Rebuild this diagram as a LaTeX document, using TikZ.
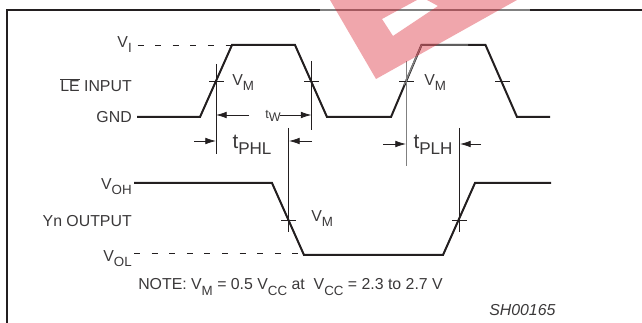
\documentclass[tikz,border=0pt]{standalone}
\usepackage{fontspec}
\usetikzlibrary{arrows.meta}
\setmainfont{Liberation Sans}
\definecolor{inkdark}{HTML}{231F20}
\definecolor{inksoft}{HTML}{3A3839}
\definecolor{stampred}{HTML}{D9202F}
\newcommand{\lowtxt}[1]{\raisebox{-0.32em}{\fontsize{10}{10}\selectfont #1}}
\newcommand{\lowbig}[1]{\raisebox{-0.3em}{\fontsize{12.8}{13}\selectfont #1}}
\tikzset{
    wave/.style={line width=1.5pt, color=inkdark},
    thin line/.style={line width=0.6pt, color=inkdark},
    dash line/.style={line width=0.7pt, color=inkdark, dash pattern=on 4.5pt off 8.7pt},
    dim arrow/.style={line width=0.6pt, color=inkdark, -{Latex[length=8pt,width=5pt]}},
    lbl/.style={inner sep=0pt, text=inksoft, font=\fontsize{11.9}{13}\selectfont},
    big lbl/.style={inner sep=0pt, text=inksoft, font=\fontsize{15.5}{17}\selectfont},
}
\begin{document}
\begin{tikzpicture}[x=0.75pt, y=-0.75pt]
    \useasboundingbox (0,0) rectangle (642,323);

    % frame
    \draw [line width=1.6pt, color=inkdark] (7,323) -- (7,10) -- (642,10);
    \draw [line width=1pt, color=gray] (320,10) -- (530,10);

    % input
    \node [lbl, left] (vi) at (132,45) {V\lowtxt{I}};
    \node [lbl, left] (leinput) at (132,85) {$\overline{\hbox{LE}}$ INPUT};
    \node [lbl, left] (gnd) at (132,117) {GND};
    \draw [dash line] (137.5,45) -- (232,45);
    \draw [wave] (137,117) -- (200,117) -- (232,45) -- (295,45) -- (327,117) -- (391,117) -- (421.5,45) -- (485.5,45) -- (517,117) -- (550,117);
    \draw [line width=1.1pt, color=gray] (404,85) -- (421.5,45) -- (468,45);

    % output
    \node [lbl, left] (voh) at (132,187) {V\lowtxt{OH}};
    \node [lbl, left] (yn) at (132,221) {Yn OUTPUT};
    \node [lbl, left] (vol) at (132,259) {V\lowtxt{OL}};
    \draw [dash line] (134,253.7) -- (302,253.7);
    \draw [wave] (134,183) -- (272,183) -- (304,255) -- (443,255) -- (475,183) -- (551,183);

    % ticks
    \draw [thin line] (209,81) -- (224,81);
    \draw [thin line] (304,81) -- (319,81);
    \draw [thin line] (399,81) -- (414,81);
    \draw [thin line] (495,81) -- (510,81);
    \draw [thin line] (281,220) -- (296,220);
    \draw [thin line] (452,220) -- (467,220);

    % verticals
    \draw [thin line] (216,64) -- (216,154);
    \draw [thin line] (311.5,61) -- (311.5,130);
    \draw [thin line, color=gray] (406,61) -- (406,166);
    \draw [thin line] (288.5,128) -- (288.5,232);
    \draw [thin line] (459.5,128) -- (459.5,232);

    % vm labels
    \node [lbl, anchor=west] (vma) at (232,83) {V\lowtxt{M}};
    \node [lbl, anchor=west] (vmb) at (424,83) {V\lowtxt{M}};
    \node [lbl, anchor=west] (vmc) at (311,219) {V\lowtxt{M}};

    % widths
    \coordinate (wa) at (249,115);
    \coordinate (wb) at (216,115);
    \coordinate (wc) at (280,115);
    \coordinate (wd) at (311.5,115);
    \draw [dim arrow] (wa) -- (wb);
    \draw [dim arrow] (wc) -- (wd);
    \node [inner sep=0pt, text=inksoft, font=\fontsize{9.4}{10}\selectfont] (tw) at (273,116) {t\raisebox{-0.2em}{W}};

    \coordinate (pa) at (194,141);
    \coordinate (pb) at (216,141);
    \coordinate (pc) at (312,141);
    \coordinate (pd) at (289,141);
    \draw [dim arrow] (pa) -- (pb);
    \draw [dim arrow] (pc) -- (pd);
    \node [big lbl] (tphl) at (252,145) {t\lowbig{PHL}};

    \coordinate (qa) at (383,144);
    \coordinate (qb) at (406,144);
    \coordinate (qc) at (481,144);
    \coordinate (qd) at (460,144);
    \draw [dim arrow] (qa) -- (qb);
    \draw [dim arrow] (qc) -- (qd);
    \node [big lbl] (tplh) at (433,145) {t\lowbig{PLH}};

    % note
    \node [lbl, anchor=west] (note) at (138,287) {NOTE: V\lowtxt{M} = 0.5 V\lowtxt{CC} at\ \ V\lowtxt{CC} = 2.3 to 2.7 V};
    \node [lbl, anchor=west, font=\fontsize{11.9}{13}\selectfont\itshape] (code) at (489,310) {SH00165};

    % stamp
    \fill [stampred, fill opacity=0.4, even odd rule]
        (330,0) -- (376,79) -- (517,0) -- cycle
        (382,19) -- (417,0) -- (427,0) -- (438,6) -- (393,36) -- cycle;
\end{tikzpicture}
\end{document}
